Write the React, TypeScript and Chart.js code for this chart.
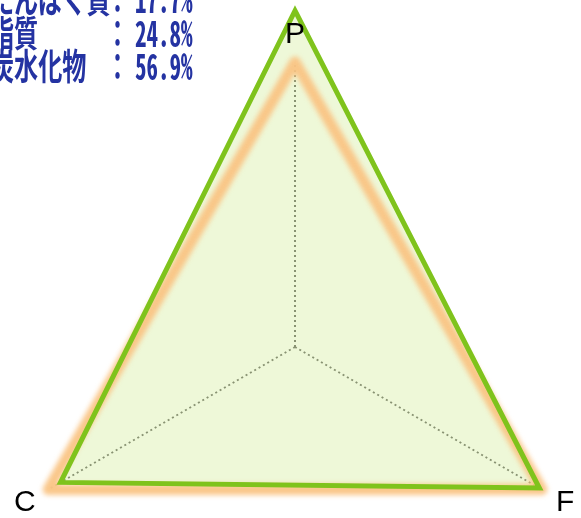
import React, { useEffect, useRef } from "react";
import { Chart, registerables } from "chart.js";

Chart.register(...registerables);

// Axis labels (clockwise from top)
const AXES = ["P", "F", "C"];
// Ratio to target intake (%)
const ACTUAL = [118, 99, 95];
const TARGET = [100, 100, 100];
// Text block
const NUTRIENTS = ["たんぱく質", "脂質", "炭水化物"];
const PERCENTS = ["17.7%", "24.8%", "56.9%"];

const glowPlugin = {
  id: "glow",
  beforeDatasetDraw(chart: any, args: any) {
    if (args.index === 1) {
      chart.ctx.save();
      chart.ctx.filter = "blur(2.5px)";
    }
  },
  afterDatasetDraw(chart: any, args: any) {
    if (args.index === 1) {
      chart.ctx.restore();
    }
  },
};

const labelPlugin = {
  id: "axisLabels",
  afterDatasetsDraw(chart: any) {
    const scale = chart.scales.r;
    const ctx = chart.ctx;
    ctx.save();
    ctx.font = "30px 'Liberation Sans', Arial, sans-serif";
    ctx.fillStyle = "#000";
    ctx.textAlign = "center";
    ctx.textBaseline = "middle";
    AXES.forEach((lab, i) => {
      const p = scale.getPointPosition(i, scale.drawingArea + 27);
      ctx.fillText(lab, p.x, p.y);
    });
    ctx.restore();
  },
};

export default function App() {
  const ref = useRef<HTMLCanvasElement>(null);
  useEffect(() => {
    if (!ref.current) return;
    const chart = new Chart(ref.current, {
      type: "radar",
      data: {
        labels: AXES,
        datasets: [
          {
            label: "実績",
            data: ACTUAL,
            borderColor: "#7fc31c",
            borderWidth: 5,
            backgroundColor: "rgba(170, 220, 60, 0.2)",
            fill: true,
            pointRadius: 0,
            clip: false as any,
            borderJoinStyle: "miter",
          },
          {
            label: "目標",
            data: TARGET,
            borderColor: "rgba(250, 196, 132, 0.95)",
            borderWidth: 11,
            backgroundColor: "transparent",
            fill: false,
            pointRadius: 0,
            clip: false as any,
            borderJoinStyle: "round",
          },
        ],
      },
      options: {
        animation: false,
        responsive: true,
        maintainAspectRatio: false,
        layout: { padding: { left: 10, right: 10, top: 0, bottom: 6 } },
        plugins: {
          legend: { display: false },
          tooltip: { enabled: false },
          filler: { drawTime: "beforeDatasetsDraw" } as any,
        },
        scales: {
          r: {
            min: 0,
            max: 100,
            ticks: { display: false, stepSize: 100 },
            grid: { display: false },
            pointLabels: { display: false },
            angleLines: {
              display: true,
              color: "#808080",
              lineWidth: 2,
              borderDash: [2, 3],
            },
          },
        },
      },
      plugins: [glowPlugin, labelPlugin],
    });
    return () => chart.destroy();
  }, []);

  const font = "'Noto Sans Mono CJK JP', 'Noto Sans CJK JP', sans-serif";
  const lineTops = [-20, 14, 47];
  const textStyle: React.CSSProperties = {
    position: "absolute",
    fontFamily: font,
    fontWeight: 700,
    fontSize: 36,
    lineHeight: "34px",
    color: "#2433a2",
    whiteSpace: "nowrap",
    transformOrigin: "left center",
    transform: "scaleX(0.64)",
  };

  return (
    <div
      style={{
        position: "fixed",
        left: 0,
        top: 0,
        width: 581,
        height: 518,
        overflow: "hidden",
        background: "#fff",
      }}
    >
      <div style={{ position: "absolute", left: 0, top: 0, width: 590, height: 700 }}>
        <canvas ref={ref} />
      </div>
      {NUTRIENTS.map((n, i) => (
        <React.Fragment key={n}>
          <div style={{ ...textStyle, left: -10, top: lineTops[i], transform: "scaleX(0.67)" }}>{n}</div>
          <div style={{ ...textStyle, left: 106, top: lineTops[i] }}>：</div>
          <div style={{ ...textStyle, left: 135, top: lineTops[i] }}>{PERCENTS[i]}</div>
        </React.Fragment>
      ))}
    </div>
  );
}
